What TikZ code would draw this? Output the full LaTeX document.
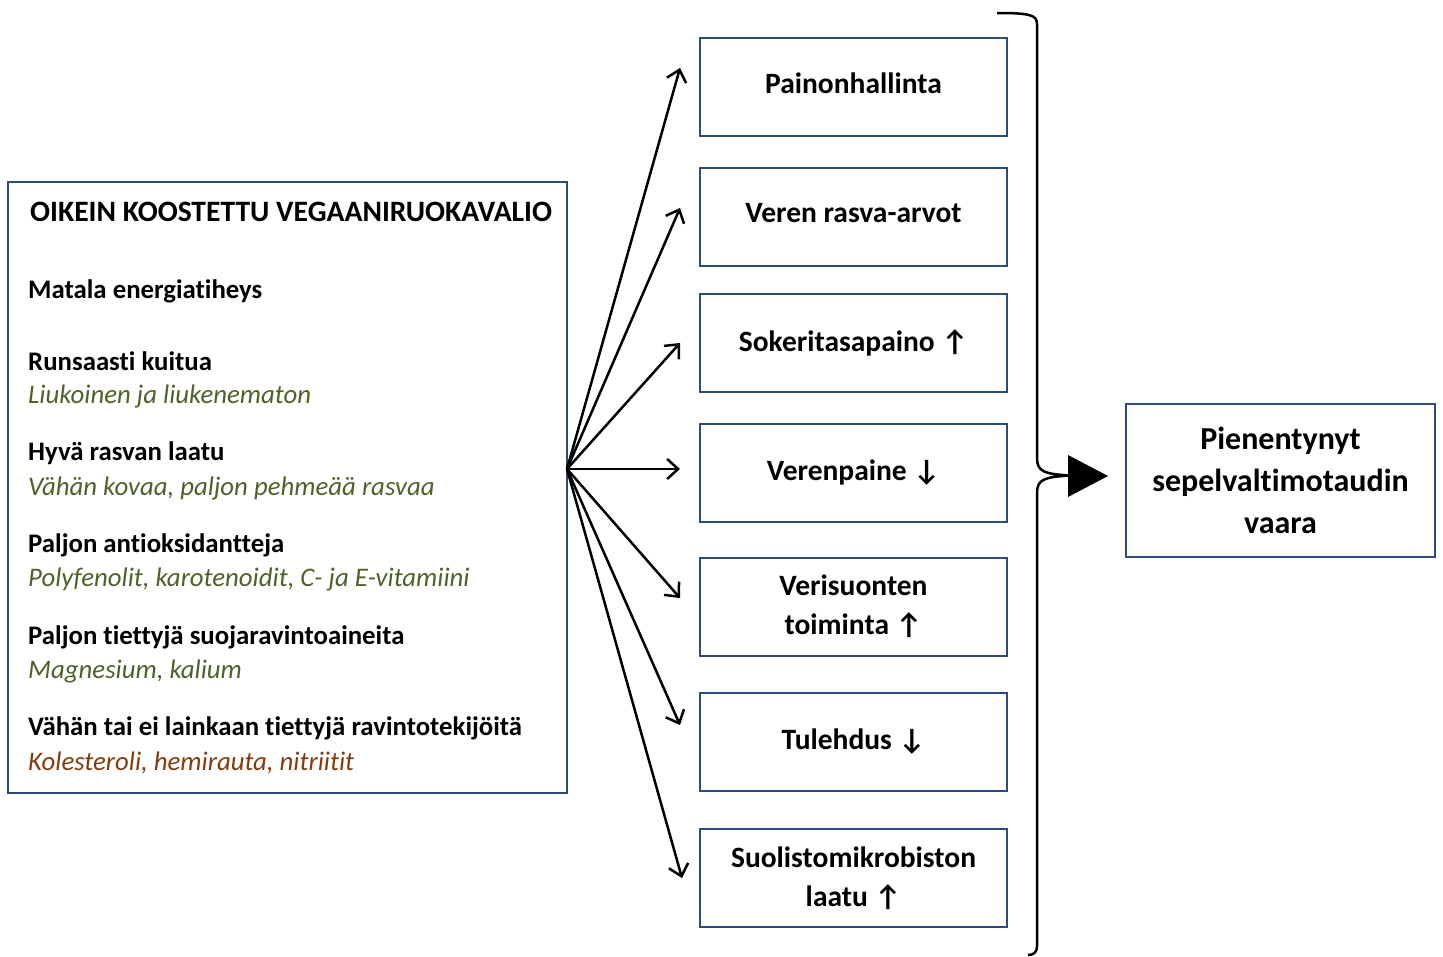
\documentclass[tikz,border=0pt]{standalone}
\usepackage{fontspec}
\setmainfont[Ligatures=NoCommon]{Carlito}
\usetikzlibrary{arrows.meta}
\definecolor{boxblue}{HTML}{2F4B7C}
\definecolor{olivegreen}{HTML}{4F6228}
\definecolor{rustbrown}{HTML}{843C0C}
\tikzset{
  x=1pt,y=-1pt,
  midbox/.style={draw=boxblue,line width=2pt,minimum width=307pt,minimum height=98pt,align=center,font=\fontsize{29.5}{39}\selectfont\bfseries},
  head/.style={anchor=west,font=\fontsize{26.8}{28}\selectfont\bfseries,inner sep=0pt},
  sub/.style={anchor=west,font=\fontsize{26.8}{28}\selectfont\itshape,inner sep=0pt},
  ray/.style={line width=2.5pt,-{Straight Barb[length=11pt,width=20pt,line width=2.5pt]}},
}
\begin{document}
\begin{tikzpicture}
\useasboundingbox (0,0) rectangle (1443,956);
% left box
\node[draw=boxblue,line width=2pt,minimum width=559pt,minimum height=611pt,inner sep=0pt] (lb) at (287.5,487.5) {};
\node[head,font=\fontsize{29.6}{28}\selectfont\bfseries] (t0) at (30,212) {OIKEIN KOOSTETTU VEGAANIRUOKAVALIO};
\node[head] (h1) at (28,291) {Matala energiatiheys};
\node[head] (h2) at (28,361) {Runsaasti kuitua};
\node[sub,text=olivegreen] (s2) at (28,396) {Liukoinen ja liukenematon};
\node[head] (h3) at (28,453) {Hyvä rasvan laatu};
\node[sub,text=olivegreen] (s3) at (28,488) {Vähän kovaa, paljon pehmeää rasvaa};
\node[head] (h4) at (28,545) {Paljon antioksidantteja};
\node[sub,text=olivegreen] (s4) at (28,579) {Polyfenolit, karotenoidit, C- ja E-vitamiini};
\node[head] (h5) at (28,637) {Paljon tiettyjä suojaravintoaineita};
\node[sub,text=olivegreen] (s5) at (28,671) {Magnesium, kalium};
\node[head] (h6) at (28,728) {Vähän tai ei lainkaan tiettyjä ravintotekijöitä};
\node[sub,text=rustbrown] (s6) at (28,763) {Kolesteroli, hemirauta, nitriitit};
% middle boxes
\node[midbox,text depth=8pt] (b1) at (853.5,87) {Painonhallinta};
\node[midbox,text depth=8pt] (b2) at (853.5,217) {Veren rasva-arvot};
\node[midbox] (b3) at (853.5,343) {Sokeritasapaino ↑};
\node[midbox] (b4) at (853.5,473) {Verenpaine ↓};
\node[midbox] (b5) at (853.5,606.5) {Verisuonten\\toiminta ↑};
\node[midbox] (b6) at (853.5,741.5) {Tulehdus ↓};
\node[midbox] (b7) at (853.5,878) {Suolistomikrobiston\\laatu ↑};
% right box
\node[draw=boxblue,line width=2pt,minimum width=309pt,minimum height=153pt,align=center,font=\fontsize{32}{42}\selectfont\bfseries] (rb) at (1280.5,480.5) {Pienentynyt\\sepelvaltimotaudin\\vaara};
% rays
\coordinate (src) at (567,469);
\coordinate (e1) at (680,68);
\coordinate (e2) at (680,208);
\coordinate (e3) at (680,343);
\coordinate (e4) at (680,469);
\coordinate (e5) at (680,598);
\coordinate (e6) at (680,725);
\coordinate (e7) at (682,878);
\foreach \i in {1,...,7} \draw[ray] (src) -- (e\i);
% brace
\coordinate (bt) at (997,13);
\coordinate (bb) at (1028,955);
\coordinate (tip) at (1070,475.5);
\draw[line width=2.5pt,line join=round]
  (bt) .. controls (1030,13) and (1037,15) .. (1037,24)
  -- (1037,458) .. controls (1037,472) and (1045,474) .. (tip)
  .. controls (1045,477) and (1037,479) .. (1037,493)
  -- (1037,946) .. controls (1037,952) and (1034,955) .. (bb);
% big arrow
\fill (1068,455) -- (1108,476) -- (1068,497) -- cycle;
\end{tikzpicture}
\end{document}
